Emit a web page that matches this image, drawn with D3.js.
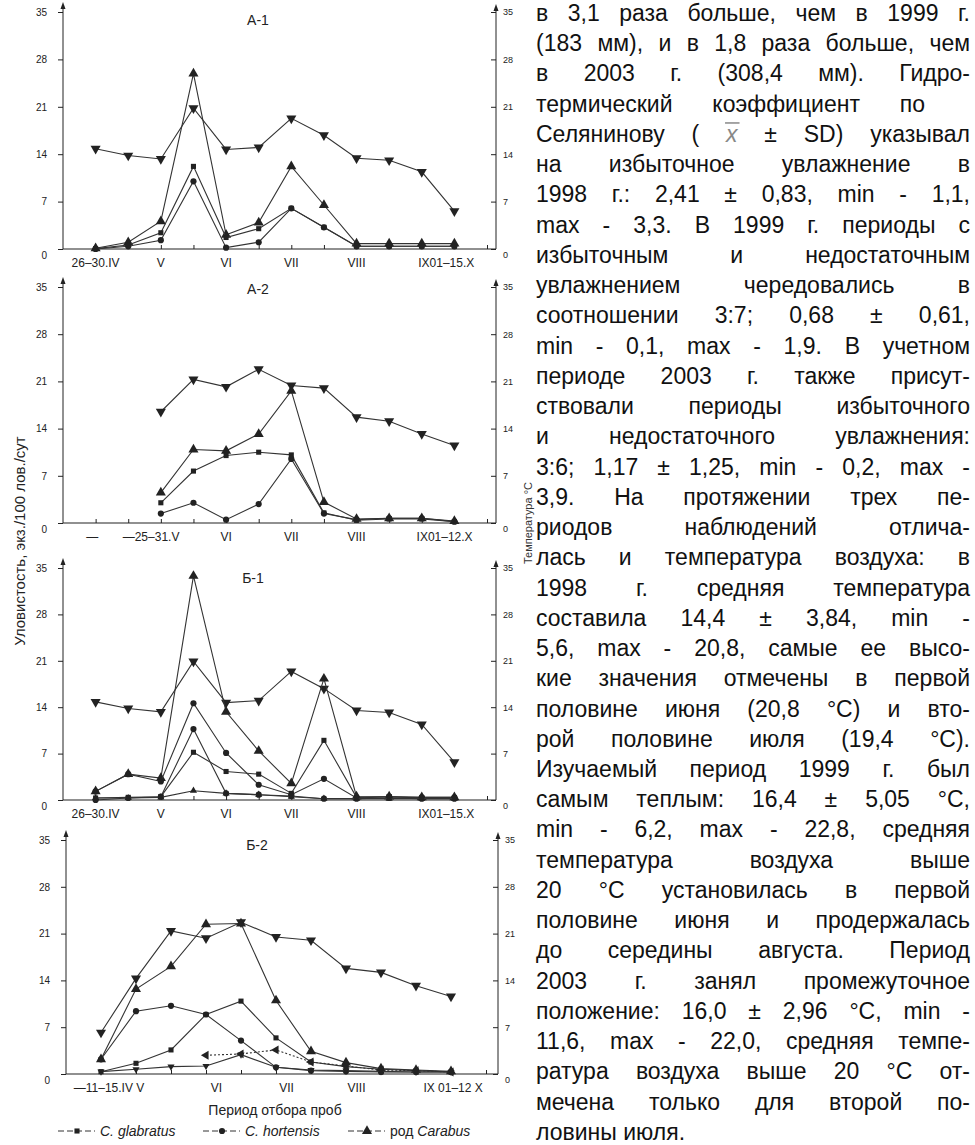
<!DOCTYPE html>
<html lang="ru">
<head>
<meta charset="utf-8">
<title>Уловистость жужелиц рода Carabus</title>
<script src="https://cdn.jsdelivr.net/npm/d3@7"></script>
<style>
  body { margin: 0; background: #fff; }
  svg { display: block; font-family: "Liberation Sans", Arial, sans-serif; }
  .axis path { display: none; }
  .axis line { stroke: #222; stroke-width: 1; }
  .axis text { font-size: 10px; fill: #222; font-family: "Liberation Sans", Arial, sans-serif; }
  .raxis text { font-size: 9px; }
  .xlab { font-size: 12px; fill: #222; }
  .ptitle { font-size: 14px; fill: #222; }
  .series { fill: none; stroke: #333; stroke-width: 1.1; }
  .mark { fill: #222; }
  .body-text { font-size: 23px; fill: #111; }
</style>
</head>
<body>
<script>
// y ticks shared by both axes of every panel
var yTicks = [0, 7, 14, 21, 28, 35];

// А-1
var labelsA1 = ["26–30.IV", "V", "VI", "VII", "VIII", "IX01–15.X"];
var labelSlotsA1 = [1, 3, 5, 7, 9, 11.75];
var tempA1      = [14.8, 13.8, 13.3, 20.8, 14.7, 15.0, 19.3, 16.8, 13.4, 13.1, 11.4, 5.6];
var carabusA1   = [0.1, 1.0, 4.1, 25.9, 2.1, 3.9, 12.2, 6.5, 0.8, 0.8, 0.8, 0.8];
var glabratusA1 = [0.05, 0.6, 2.4, 12.2, 1.7, 3.0, 6.0, 3.2, 0.4, 0.4, 0.4, 0.4];
var hortensisA1 = [0, 0.4, 1.3, 10.0, 0.2, 1.0, 6.0, 3.2, 0.4, 0.4, 0.4, 0.4];

// А-2
var labelsA2 = ["—", "—25–31.V", "VI", "VII", "VIII", "IX01–12.X"];
var labelSlotsA2 = [0.9, 2.7, 5, 7, 9, 11.7];
var tempA2      = [null, null, 16.5, 21.3, 20.2, 22.8, 20.4, 20.0, 15.7, 15.1, 13.2, 11.5];
var carabusA2   = [null, null, 4.5, 10.9, 10.7, 13.2, 19.6, 3.1, 0.6, 0.7, 0.7, 0.3];
var glabratusA2 = [null, null, 3.0, 7.7, 10.0, 10.5, 10.1, 1.5, 0.4, 0.6, 0.6, 0.2];
var hortensisA2 = [null, null, 1.4, 3.0, 0.5, 2.8, 9.5, 1.4, 0.5, 0.7, 0.7, 0.2];

// Б-1
var labelsB1 = ["26–30.IV", "V", "VI", "VII", "VIII", "IX01–15.X"];
var labelSlotsB1 = [1, 3, 5, 7, 9, 11.75];
var tempB1      = [14.8, 13.8, 13.3, 20.9, 14.7, 15.0, 19.4, 16.8, 13.5, 13.2, 11.4, 5.7];
var carabusB1   = [1.3, 3.9, 3.3, 33.8, 13.3, 7.4, 2.5, 18.3, 0.5, 0.5, 0.4, 0.4];
var glabratusB1 = [0.3, 0.4, 0.5, 7.2, 4.3, 3.9, 1.0, 9.0, 0.4, 0.5, 0.3, 0.3];
var hortensisB1 = [1.3, 3.9, 2.8, 14.6, 7.1, 2.3, 0.8, 3.2, 0.3, 0.5, 0.4, 0.4];
var otherB1a    = [0, 0.3, 0.5, 10.7, 1.0, 0.8, 0.6, 0.2, 0.2, 0.3, 0.2, 0.2];
var otherB1b    = [0.3, 0.3, 0.4, 1.4, 1.0, 0.8, 0.5, 0.2, 0.2, 0.2, 0.2, 0.2];

// Б-2
var labelsB2 = ["—11–15.IV V", "VI", "VII", "VIII", "IX 01–12 X"];
var labelSlotsB2 = [1.23, 4.3, 6.3, 8.3, 11.06];
var tempB2      = [6.2, 14.3, 21.4, 20.3, 22.7, 20.5, 20.0, 15.8, 15.2, 13.2, 11.6];
var carabusB2   = [2.2, 12.7, 16.1, 22.4, 22.5, 11.0, 3.4, 1.7, 0.8, 0.6, 0.4];
var glabratusB2 = [0.35, 1.6, 3.6, 8.9, 10.9, 5.4, 1.8, 1.1, 0.7, 0.5, 0.3];
var hortensisB2 = [2.2, 9.4, 10.2, 8.9, 5.0, 1.0, 0.5, 0.4, 0.3, 0.3, 0.3];
var otherB2a    = [null, null, null, 2.8, 3.0, 3.6, 1.8, 1.2, 0.6, 0.5, 0.3];
var otherB2b    = [0.35, 0.7, 1.1, 1.2, 2.9, 1.0, 0.6, 0.5, 0.4, 0.3, 0.3];

var legendNames = ["C. glabratus", "C. hortensis", "Carabus"];

var bodyLines = [
  "в 3,1 раза больше, чем в 1999 г.",
  "(183 мм), и в 1,8 раза больше, чем",
  "в 2003 г. (308,4 мм). Гидро-",
  "термический коэффициент по",
  "Селянинову ( x ± SD) указывал",
  "на избыточное увлажнение в",
  "1998 г.: 2,41 ± 0,83, min - 1,1,",
  "max - 3,3. В 1999 г. периоды с",
  "избыточным и недостаточным",
  "увлажнением чередовались в",
  "соотношении 3:7; 0,68 ± 0,61,",
  "min - 0,1, max - 1,9. В учетном",
  "периоде 2003 г. также присут-",
  "ствовали периоды избыточного",
  "и недостаточного увлажнения:",
  "3:6; 1,17 ± 1,25, min - 0,2, max -",
  "3,9. На протяжении трех пе-",
  "риодов наблюдений отлича-",
  "лась и температура воздуха: в",
  "1998 г. средняя температура",
  "составила 14,4 ± 3,84, min -",
  "5,6, max - 20,8, самые ее высо-",
  "кие значения отмечены в первой",
  "половине июня (20,8 °С) и вто-",
  "рой половине июля (19,4 °С).",
  "Изучаемый период 1999 г. был",
  "самым теплым: 16,4 ± 5,05 °С,",
  "min - 6,2, max - 22,8, средняя",
  "температура воздуха выше",
  "20 °С установилась в первой",
  "половине июня и продержалась",
  "до середины августа. Период",
  "2003 г. занял промежуточное",
  "положение: 16,0 ± 2,96 °С, min -",
  "11,6, max - 22,0, средняя темпе-",
  "ратура воздуха выше 20 °С от-",
  "мечена только для второй по-",
  "ловины июля."
];

// layout of the four panels
var panels = [
  { title: "А-1", titleX: 258, titleY: 25, x0: 63, xEnd: 487, xr: 496, zeroY: 249, topY: 12, slots: 13,
    labels: labelsA1, labelSlots: labelSlotsA1,
    series: [[tempA1, "down"], [carabusA1, "up"], [glabratusA1, "square"], [hortensisA1, "circle"]] },
  { title: "А-2", titleX: 258, titleY: 294, x0: 63, xEnd: 487, xr: 496, zeroY: 523, topY: 287, slots: 13,
    labels: labelsA2, labelSlots: labelSlotsA2,
    series: [[tempA2, "down"], [carabusA2, "up"], [glabratusA2, "square"], [hortensisA2, "circle"]] },
  { title: "Б-1", titleX: 253, titleY: 583, x0: 63, xEnd: 487, xr: 496, zeroY: 800, topY: 568, slots: 13,
    labels: labelsB1, labelSlots: labelSlotsB1,
    series: [[tempB1, "down"], [carabusB1, "up"], [glabratusB1, "square"], [hortensisB1, "circle"],
             [otherB1a, "circle"], [otherB1b, "smallup"]] },
  { title: "Б-2", titleX: 257, titleY: 850, x0: 66, xEnd: 486, xr: 498, zeroY: 1074, topY: 840, slots: 12,
    labels: labelsB2, labelSlots: labelSlotsB2,
    series: [[tempB2, "down"], [carabusB2, "up"], [glabratusB2, "square"], [hortensisB2, "circle"],
             [otherB2a, "left", "2,2"], [otherB2b, "smalldown"]] }
];

var shapes = {
  down:      { type: d3.symbolTriangle, size: 44, rot: 180 },
  up:        { type: d3.symbolTriangle, size: 44, rot: 0 },
  square:    { type: d3.symbolSquare, size: 26, rot: 0 },
  circle:    { type: d3.symbolCircle, size: 30, rot: 0 },
  left:      { type: d3.symbolTriangle, size: 34, rot: -90 },
  smallup:   { type: d3.symbolTriangle, size: 22, rot: 0 },
  smalldown: { type: d3.symbolTriangle, size: 22, rot: 180 }
};

var svg = d3.select("body").append("svg")
  .attr("width", 975)
  .attr("height", 1145);

function arrowUp(g, x, y) {
  g.append("path")
    .attr("d", "M" + x + "," + y + "l-2.5,7l5,0z")
    .attr("fill", "#222");
}

panels.forEach(function(p) {
  var g = svg.append("g");
  var xScale = d3.scaleLinear().domain([0, p.slots]).range([p.x0, p.xEnd]);
  var yScale = d3.scaleLinear().domain([0, 35]).range([p.zeroY, p.topY]);

  // left axis
  var la = g.append("g")
    .attr("class", "axis")
    .attr("transform", "translate(" + p.x0 + ",0)")
    .call(d3.axisLeft(yScale).tickValues(yTicks).tickSize(5).tickPadding(11));
  la.selectAll("text").filter(function(d) { return d === 0; }).attr("dy", "0.9em");
  g.append("line")
    .attr("x1", p.x0).attr("x2", p.x0)
    .attr("y1", p.zeroY).attr("y2", p.topY - 7)
    .attr("stroke", "#222");
  arrowUp(g, p.x0, p.topY - 10);

  // right (temperature) axis
  var ra = g.append("g")
    .attr("class", "axis raxis")
    .attr("transform", "translate(" + p.xr + ",0)")
    .call(d3.axisRight(yScale).tickValues(yTicks).tickSizeInner(-5).tickSizeOuter(0).tickPadding(7));
  ra.selectAll("text").filter(function(d) { return d === 0; }).attr("dy", "0.9em");
  g.append("line")
    .attr("x1", p.xr).attr("x2", p.xr)
    .attr("y1", p.zeroY).attr("y2", p.topY - 5)
    .attr("stroke", "#222");
  arrowUp(g, p.xr, p.topY - 8);

  // x axis
  g.append("g")
    .attr("class", "axis")
    .attr("transform", "translate(0," + p.zeroY + ")")
    .call(d3.axisBottom(xScale).tickValues(d3.range(1, p.slots + 1)).tickSize(-4).tickFormat(""));
  g.append("line")
    .attr("x1", p.x0).attr("x2", p.xr)
    .attr("y1", p.zeroY).attr("y2", p.zeroY)
    .attr("stroke", "#222")
    .attr("stroke-width", 1.2);

  g.selectAll(".xlab")
    .data(p.labels)
    .enter()
    .append("text")
    .attr("class", "xlab")
    .attr("x", function(d, i) { return xScale(p.labelSlots[i]); })
    .attr("y", p.zeroY + 18)
    .attr("text-anchor", "middle")
    .text(function(d) { return d; });

  g.append("text")
    .attr("class", "ptitle")
    .attr("x", p.titleX)
    .attr("y", p.titleY)
    .attr("text-anchor", "middle")
    .text(p.title);

  var line = d3.line()
    .defined(function(d) { return d != null; })
    .x(function(d, i) { return xScale(i + 1); })
    .y(function(d) { return yScale(d); });

  p.series.forEach(function(s) {
    var vals = s[0], sh = shapes[s[1]];
    g.append("path")
      .attr("class", "series")
      .attr("d", line(vals))
      .attr("stroke-dasharray", s[2] || null);
    var pts = vals.map(function(d, i) { return [i + 1, d]; })
      .filter(function(d) { return d[1] != null; });
    g.selectAll(null)
      .data(pts)
      .enter()
      .append("path")
      .attr("class", "mark")
      .attr("d", d3.symbol().type(sh.type).size(sh.size))
      .attr("transform", function(d) {
        return "translate(" + xScale(d[0]) + "," + yScale(d[1]) + ") rotate(" + sh.rot + ")";
      });
  });
});

// axis titles
svg.append("text")
  .attr("transform", "translate(25,541) rotate(-90)")
  .attr("text-anchor", "middle")
  .attr("font-size", 15)
  .attr("fill", "#222")
  .text("Уловистость, экз./100 лов./сут");

svg.append("text")
  .attr("transform", "translate(532,523) rotate(-90)")
  .attr("text-anchor", "middle")
  .attr("font-size", 11)
  .attr("fill", "#333")
  .text("Температура °С");

svg.append("text")
  .attr("x", 275)
  .attr("y", 1115)
  .attr("text-anchor", "middle")
  .attr("font-size", 14)
  .attr("fill", "#222")
  .text("Период отбора проб");

// legend
var legendX = [58, 203, 348];
var legendShapes = ["square", "circle", "up"];
var lg = svg.append("g");
legendNames.forEach(function(name, i) {
  var x = legendX[i], sh = shapes[legendShapes[i]];
  lg.append("line")
    .attr("x1", x).attr("x2", x + 37)
    .attr("y1", 1131).attr("y2", 1131)
    .attr("stroke", "#333")
    .attr("stroke-dasharray", "6,3");
  lg.append("path")
    .attr("class", "mark")
    .attr("d", d3.symbol().type(sh.type).size(sh.size)())
    .attr("transform", "translate(" + (x + 19) + ",1131)");
  var t = lg.append("text")
    .attr("x", x + 42)
    .attr("y", 1136)
    .attr("font-size", 14)
    .attr("fill", "#222");
  if (i === 2) {
    t.append("tspan").text("род ");
  }
  t.append("tspan").attr("font-style", "italic").text(name);
});

// justified body text column
var textLeft = 536, textRight = 970;
var tg = svg.append("g").attr("class", "body-text");
bodyLines.forEach(function(str, i) {
  var y = 21 + i * 30.24;
  var words = str.split(" ");
  var nodes = words.map(function(wd) {
    var t = tg.append("text").attr("y", y).text(wd);
    if (wd === "x") t.attr("font-style", "italic").attr("fill", "#888");
    return t;
  });
  var widths = nodes.map(function(n) { return n.node().getComputedTextLength(); });
  var right = i === 3 ? 925 : textRight;
  var last = i === bodyLines.length - 1;
  var gap = (last || words.length < 2) ? 6.4 : (right - textLeft - d3.sum(widths)) / (words.length - 1);
  var x = textLeft;
  nodes.forEach(function(n, k) {
    n.attr("x", x);
    if (words[k] === "x") {
      tg.append("line")
        .attr("x1", x - 1).attr("x2", x + widths[k] + 2)
        .attr("y1", y - 19).attr("y2", y - 19)
        .attr("stroke", "#888")
        .attr("stroke-width", 1.5);
    }
    x += widths[k] + gap;
  });
});
</script>
</body>
</html>
